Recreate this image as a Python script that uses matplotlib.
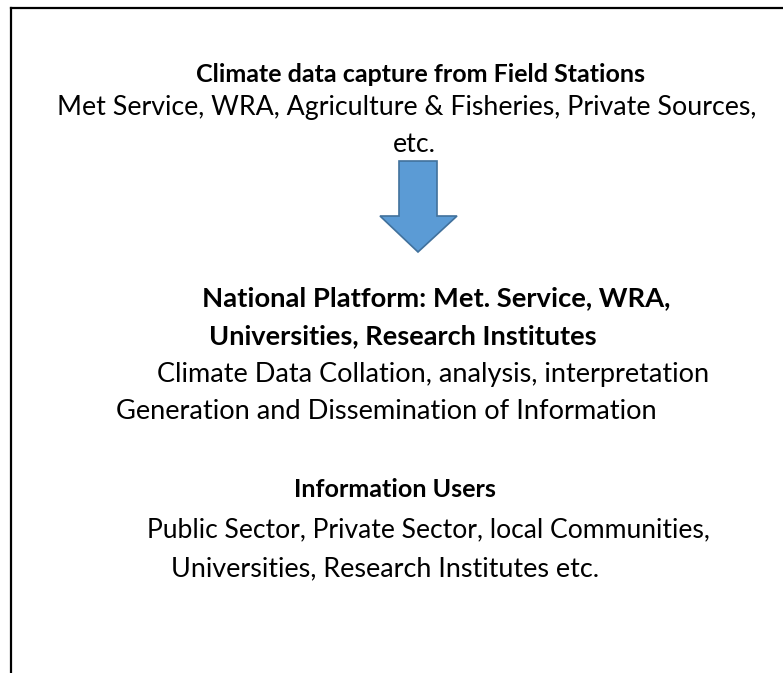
import matplotlib
matplotlib.use('Agg')
import matplotlib.pyplot as plt
from matplotlib.patches import Polygon
from matplotlib.lines import Line2D

# text content of the diagram, top to bottom
lines = [
    'Climate data capture from Field Stations',
    'Met Service, WRA, Agriculture & Fisheries, Private Sources,',
    'etc.',
    'National Platform: Met. Service, WRA,',
    'Universities, Research Institutes',
    'Climate Data Collation, analysis, interpretation',
    'Generation and Dissemination of Information',
    'Information Users',
    'Public Sector, Private Sector, local Communities,',
    'Universities, Research Institutes etc.',
]
is_bold = [True, False, False, True, True, False, False, True, False, False]

# layout in pixels (left edge, right edge, baseline); None = use previous size, centred
x_left = [196, 57, 414, 202, 209, 157, 116, 294, 147, 171]
x_right = [645, 757, None, 670, 598, 712, 658, 496, 711, 602]
y_base = [82, 115, 152, 306, 344, 382, 419, 497, 537, 576]

W, H = 783, 673
plt.rcParams['font.family'] = ['Lato', 'DejaVu Sans']

fig = plt.figure(figsize=(W / 100, H / 100), dpi=100)
ax = fig.add_axes([0, 0, 1, 1])
ax.set_xlim(0, W)
ax.set_ylim(H, 0)
ax.axis('off')

# frame: left and top edges only
ax.add_line(Line2D([11, 11], [8, H], color='black', lw=1.6))
ax.add_line(Line2D([11, W], [8, 8], color='black', lw=1.6))

# block arrow
arrow = [(399, 161), (437, 161), (437, 216), (457, 216), (418, 252),
         (380, 216), (399, 216)]
ax.add_patch(Polygon(arrow, closed=True, facecolor='#5B9BD5',
                     edgecolor='#41719C', lw=1.2))

fig.canvas.draw()
renderer = fig.canvas.get_renderer()
last_size = 20
for txt, b, xl, xr, yb in zip(lines, is_bold, x_left, x_right, y_base):
    weight = 'bold' if b else 'normal'
    if xr is None:
        ax.text(xl, yb, txt, fontsize=last_size, ha='center', va='baseline',
                fontweight=weight, color='black')
        continue
    t = ax.text(xl, yb, txt, fontsize=20, ha='left', va='baseline',
                fontweight=weight, color='black')
    w = t.get_window_extent(renderer).width
    last_size = 20 * (xr - xl) / w
    t.set_fontsize(last_size)

fig.savefig('out.png', dpi=100)
